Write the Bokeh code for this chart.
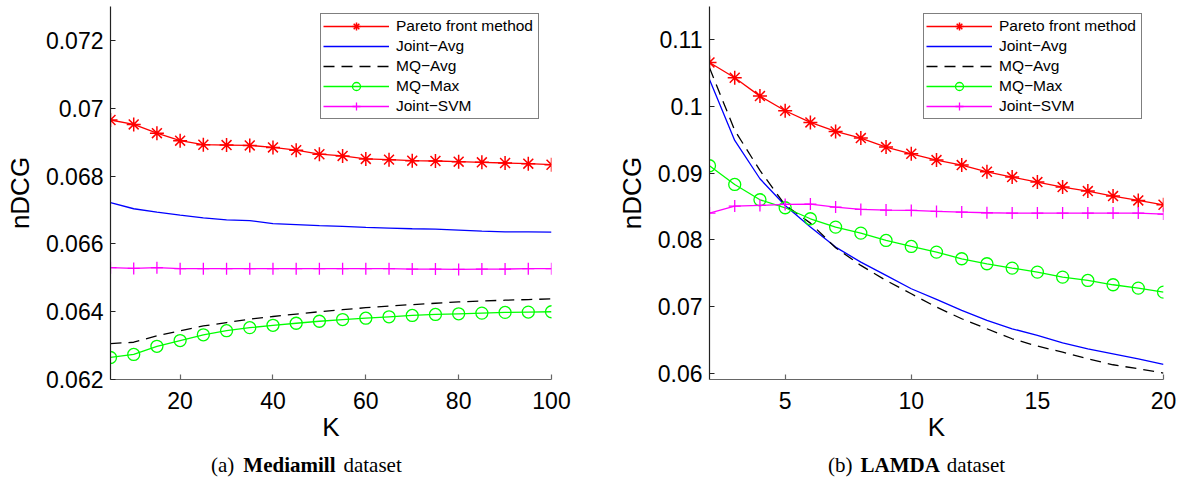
from bokeh.plotting import figure
from bokeh.layouts import row, column
from bokeh.models import Legend, LegendItem, FixedTicker, Range1d, Div
from bokeh.embed import file_html
from bokeh.resources import INLINE

# ---------------- data: Mediamill ----------------
K_mm = [5, 10, 15, 20, 25, 30, 35, 40, 45, 50, 55, 60, 65, 70, 75, 80, 85, 90, 95, 100]
mm_pareto = [0.06966, 0.06953, 0.06927, 0.06905, 0.06893, 0.06892, 0.06891, 0.06885, 0.06877, 0.06865,
             0.06860, 0.06851, 0.06849, 0.06846, 0.06845, 0.06843, 0.06841, 0.06839, 0.06837, 0.06834]
mm_joint_avg = [0.06722, 0.06704, 0.06694, 0.06685, 0.06677, 0.06671, 0.06669, 0.06660, 0.06657, 0.06654,
                0.06652, 0.06649, 0.06647, 0.06645, 0.06644, 0.06641, 0.06638, 0.06636, 0.06636, 0.06635]
mm_mq_avg = [0.06306, 0.06310, 0.06329, 0.06344, 0.06358, 0.06368, 0.06378, 0.06386, 0.06393, 0.06400,
             0.06406, 0.06412, 0.06417, 0.06421, 0.06425, 0.06429, 0.06432, 0.06434, 0.06436, 0.06438]
mm_mq_max = [0.06265, 0.06274, 0.06298, 0.06315, 0.06332, 0.06344, 0.06353, 0.06360, 0.06366, 0.06372,
             0.06377, 0.06381, 0.06385, 0.06389, 0.06392, 0.06394, 0.06396, 0.06398, 0.06399, 0.06400]
mm_joint_svm = [0.06530, 0.06528, 0.06530, 0.06527, 0.06527, 0.06527, 0.06527, 0.06527, 0.06527, 0.06527,
                0.06527, 0.06527, 0.06527, 0.06526, 0.06526, 0.06525, 0.06526, 0.06526, 0.06527, 0.06527]
mm_xticks = [20, 40, 60, 80, 100]
mm_yticks = [0.062, 0.064, 0.066, 0.068, 0.070, 0.072]
mm_ylabels = ["0.062", "0.064", "0.066", "0.068", "0.07", "0.072"]

# ---------------- data: LAMDA ----------------
K_la = [2, 3, 4, 5, 6, 7, 8, 9, 10, 11, 12, 13, 14, 15, 16, 17, 18, 19, 20]
la_pareto = [0.1066, 0.1043, 0.10155, 0.09935, 0.0976, 0.09625, 0.09525, 0.0939, 0.0929, 0.09195,
             0.0912, 0.0902, 0.0894, 0.08865, 0.0879, 0.0873, 0.08655, 0.0859, 0.08525]
la_joint_avg = [0.10405, 0.0949, 0.08915, 0.08515, 0.0819, 0.0789, 0.07665, 0.07465, 0.07265, 0.07105,
                0.0694, 0.0679, 0.06665, 0.06565, 0.06455, 0.06365, 0.0629, 0.06215, 0.0613]
la_mq_avg = [0.1058, 0.0964, 0.0904, 0.0852, 0.0825, 0.0788, 0.07615, 0.0739, 0.0719, 0.0699,
             0.06815, 0.06665, 0.06515, 0.06405, 0.06315, 0.06215, 0.06125, 0.06065, 0.0600]
la_mq_max = [0.0911, 0.0883, 0.0860, 0.0848, 0.08315, 0.0819, 0.0810, 0.0799, 0.0790, 0.07815,
             0.07715, 0.0764, 0.07575, 0.07515, 0.0744, 0.0739, 0.07325, 0.07275, 0.07215]
la_joint_svm = [0.0840, 0.08505, 0.08515, 0.0853, 0.08535, 0.0849, 0.08455, 0.08445, 0.0844, 0.08425,
                0.08415, 0.08405, 0.0840, 0.0840, 0.0840, 0.0840, 0.0840, 0.0840, 0.08385]
la_xticks = [5, 10, 15, 20]
la_yticks = [0.06, 0.07, 0.08, 0.09, 0.10, 0.11]
la_ylabels = ["0.06", "0.07", "0.08", "0.09", "0.1", "0.11"]

names = ["Pareto front method", "Joint\u2212Avg", "MQ\u2212Avg", "MQ\u2212Max", "Joint\u2212SVM"]
captions = [("(a)", "Mediamill", "dataset"), ("(b)", "LAMDA", "dataset")]
SANS = "Liberation Sans"
SERIF = "Liberation Serif"


def make_panel(K, pareto, javg, mqavg, mqmax, jsvm, xr, yr, xticks, yticks, ylabels,
               width, bl, br, legend_xy):
    p = figure(width=width, height=452, output_backend="svg", toolbar_location=None,
               x_range=Range1d(*xr), y_range=Range1d(*yr),
               min_border_left=bl, min_border_right=br, min_border_top=6, min_border_bottom=73)
    p.outline_line_color = None
    p.xgrid.grid_line_color = None
    p.ygrid.grid_line_color = None
    p.background_fill_color = "white"
    p.border_fill_color = "white"

    r1 = p.line(K, pareto, color="#ff0000", line_width=1.3)
    r1m = p.scatter(K, pareto, marker="asterisk", size=14, line_color="#ff0000", line_width=1.5)
    r2 = p.line(K, javg, color="#0000ff", line_width=1.3)
    r3 = p.line(K, mqavg, color="#000000", line_width=1.3, line_dash="11 7")
    r4 = p.line(K, mqmax, color="#00ff00", line_width=1.3)
    r4m = p.scatter(K, mqmax, marker="circle", size=12, line_color="#00ff00", fill_color=None, line_width=1.3)
    r5 = p.line(K, jsvm, color="#ff00ff", line_width=1.3)
    r5m = p.scatter(K, jsvm, marker="cross", size=12, line_color="#ff00ff", line_width=1.3)

    for ax in (p.xaxis[0], p.yaxis[0]):
        ax.major_label_text_font = SANS
        ax.major_label_text_font_size = "23px"
        ax.major_label_text_color = "black"
        ax.axis_label_text_font = SANS
        ax.axis_label_text_font_size = "26px"
        ax.axis_label_text_font_style = "normal"
        ax.axis_label_text_color = "black"
        ax.minor_tick_line_color = None
        ax.major_tick_in = 5
        ax.major_tick_out = 0
        ax.axis_line_width = 1.2
        ax.major_tick_line_width = 1.2

    p.xaxis[0].axis_label = "K"
    p.xaxis[0].ticker = FixedTicker(ticks=xticks)
    p.xaxis[0].major_label_standoff = 12
    p.xaxis[0].axis_label_standoff = 0
    p.xaxis[0].axis_line_color = "#666666"
    p.xaxis[0].major_tick_line_color = "#666666"

    p.yaxis[0].axis_label = "nDCG"
    p.yaxis[0].ticker = FixedTicker(ticks=yticks)
    p.yaxis[0].major_label_overrides = {t: s for t, s in zip(yticks, ylabels)}
    p.yaxis[0].major_label_standoff = 7
    p.yaxis[0].axis_label_standoff = 8
    p.yaxis[0].axis_line_color = "#222222"
    p.yaxis[0].major_tick_line_color = "#222222"

    legend = Legend(items=[
        LegendItem(label=names[0], renderers=[r1, r1m]),
        LegendItem(label=names[1], renderers=[r2]),
        LegendItem(label=names[2], renderers=[r3]),
        LegendItem(label=names[3], renderers=[r4, r4m]),
        LegendItem(label=names[4], renderers=[r5, r5m]),
    ], location=legend_xy)
    legend.label_text_font = SANS
    legend.label_text_font_size = "15.5px"
    legend.label_text_color = "black"
    legend.glyph_width = 66
    legend.glyph_height = 20
    legend.label_height = 20
    legend.label_width = 140
    legend.label_standoff = 7
    legend.spacing = 0
    legend.padding = 2
    legend.margin = 0
    legend.border_line_color = "black"
    legend.border_line_width = 1.2
    legend.background_fill_color = "white"
    legend.background_fill_alpha = 1.0
    p.add_layout(legend)
    return p


def make_caption(parts, width, left, gap1, gap2):
    a, b, c = parts
    html = (
        f'<div style="font-family:\'{SERIF}\';font-size:21px;line-height:22px;padding-top:2px;'
        f'padding-left:{left}px;white-space:nowrap;color:black;">'
        f'<span>{a}</span><span style="margin-left:{gap1}px;font-weight:bold;">{b}</span>'
        f'<span style="margin-left:{gap2}px;">{c}</span></div>'
    )
    return Div(text=html, width=width, height=26, margin=(0, 0, 0, 0))


p1 = make_panel(K_mm, mm_pareto, mm_joint_avg, mm_mq_avg, mm_mq_max, mm_joint_svm,
                (5, 100), (0.062, 0.07301), mm_xticks, mm_yticks, mm_ylabels,
                590, 110, 39, (210, 260))
p2 = make_panel(K_la, la_pareto, la_joint_avg, la_mq_avg, la_mq_max, la_joint_svm,
                (2, 20), (0.05904, 0.11499), la_xticks, la_yticks, la_ylabels,
                588, 119, 15, (214, 260))

c1 = make_caption(captions[0], 590, 211, 9, 8)
c2 = make_caption(captions[1], 588, 238, 8, 7)

layout = row(column(p1, c1, spacing=0), column(p2, c2, spacing=0), spacing=0)
open("out.html", "w").write(file_html(layout, INLINE))
